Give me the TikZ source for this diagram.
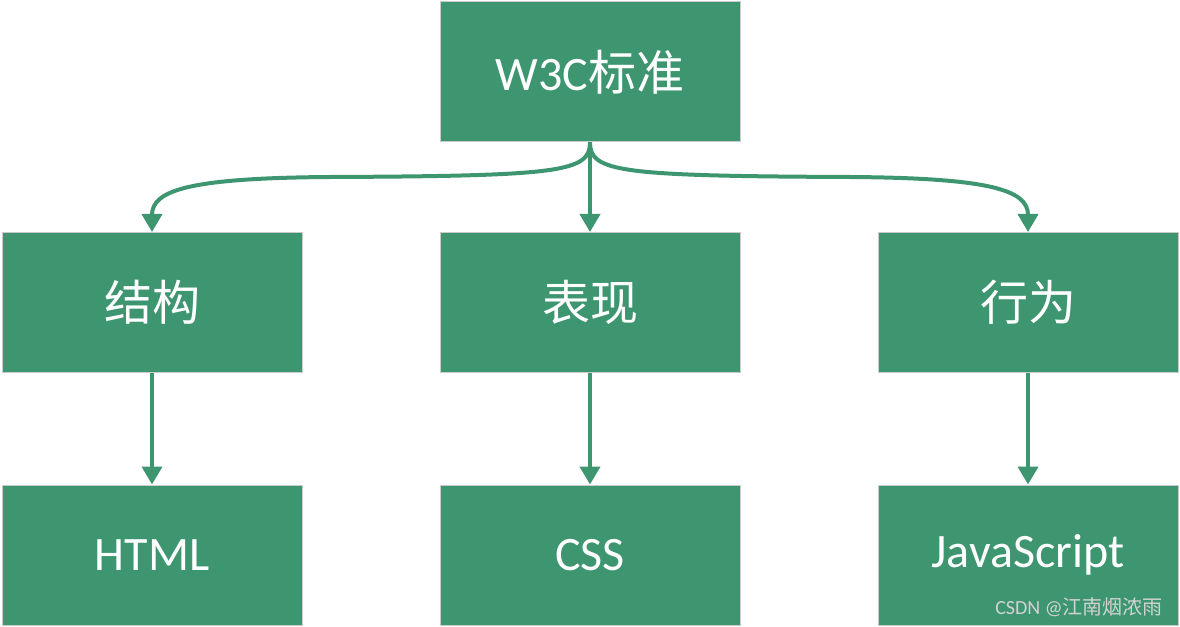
\documentclass[tikz,border=0pt]{standalone}
\usepackage{fontspec}
\setmainfont{Carlito}
\newfontfamily\cjk{Noto Sans CJK SC}
\usetikzlibrary{arrows.meta}
\definecolor{boxgreen}{HTML}{3D9670}
\definecolor{bordergray}{HTML}{C8CCCA}
\begin{document}
\begin{tikzpicture}[x=0.75pt,y=-0.75pt,
  box/.style={fill=boxgreen, draw=bordergray, line width=0.75pt, minimum width=225pt, minimum height=105pt, inner sep=0pt, text=white, font=\fontsize{36}{42}\selectfont},
  link/.style={draw=boxgreen, line width=3pt, -{Triangle[length=13.5pt,width=15pt]}}]
\useasboundingbox (0,0) rectangle (1180,627);
\node[box] (w3c) at (590,72) {W3C{\cjk 标准}};
\node[box] (jg) at (152,302.5) {\cjk 结构};
\node[box] (bx) at (590,302.5) {\cjk 表现};
\node[box] (xw) at (1028,302.5) {\cjk 行为};
\node[box] (html) at (152,555) {HTML};
\node[box] (css) at (590,555) {CSS};
\node[box] (js) at (1028,555) {JavaScript};
\coordinate (lmid) at (330,177);
\coordinate (rmid) at (850,177);
\draw[link] (w3c.south) .. controls (590,172) and (560,176) .. (lmid) .. controls (190,178) and (152,190) .. (jg.north);
\draw[link] (w3c.south) .. controls (590,172) and (620,176) .. (rmid) .. controls (990,178) and (1028,190) .. (xw.north);
\draw[link] (w3c.south) -- (bx.north);
\draw[link] (jg.south) -- (html.north);
\draw[link] (bx.south) -- (css.north);
\draw[link] (xw.south) -- (js.north);
\node[anchor=east, text=gray!35, font=\fontsize{15}{18}\selectfont, inner sep=0pt] (wm) at (1163,607) {CSDN @{\cjk 江南烟浓雨}};
\end{tikzpicture}
\end{document}
